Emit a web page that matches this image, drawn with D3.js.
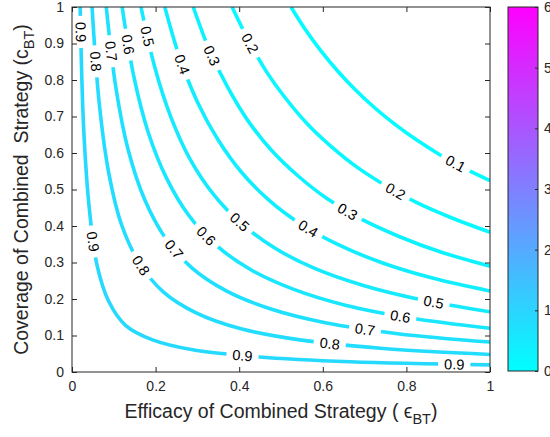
<!DOCTYPE html>
<html>
<head>
<meta charset="utf-8">
<script src="https://cdn.jsdelivr.net/npm/d3@7"></script>
<style>
  body { margin: 0; background: #fff; }
  text { font-family: "Liberation Sans", Arial, Helvetica, sans-serif; fill: #262626; }
</style>
</head>
<body>
<div id="chart"></div>
<script>
// contour levels
const levels = [0.1, 0.2, 0.3, 0.4, 0.5, 0.6, 0.7, 0.8, 0.9];

// traced contour lines, [efficacy, coverage] points
const line01 = [[0.524,1],[0.559,0.937],[0.596,0.879],[0.636,0.824],[0.679,0.772],[0.724,0.724],[0.772,0.679],[0.824,0.636],[0.879,0.596],[0.937,0.559],[1,0.524]];
const line02 = [[0.383,1],[0.422,0.909],[0.464,0.825],[0.511,0.750],[0.562,0.681],[0.619,0.619],[0.681,0.562],[0.750,0.511],[0.825,0.464],[0.909,0.422],[1,0.383]];
const line03 = [[0.29,1],[0.328,0.884],[0.372,0.781],[0.420,0.690],[0.476,0.609],[0.539,0.539],[0.609,0.476],[0.690,0.420],[0.781,0.372],[0.884,0.328],[1,0.29]];
const line04 = [[0.222,1],[0.258,0.860],[0.300,0.740],[0.349,0.637],[0.405,0.548],[0.471,0.471],[0.548,0.405],[0.637,0.349],[0.740,0.300],[0.860,0.258],[1,0.222]];
const line05 = [[0.165,1],[0.198,0.835],[0.237,0.697],[0.283,0.582],[0.339,0.486],[0.406,0.406],[0.486,0.339],[0.582,0.283],[0.697,0.237],[0.835,0.198],[1,0.165]];
const line06 = [[0.12,1],[0.148,0.809],[0.183,0.654],[0.227,0.529],[0.280,0.428],[0.346,0.346],[0.428,0.280],[0.529,0.227],[0.654,0.183],[0.809,0.148],[1,0.12]];
const line07 = [[0.082,1],[0.105,0.779],[0.135,0.606],[0.174,0.472],[0.223,0.368],[0.286,0.286],[0.368,0.223],[0.472,0.174],[0.606,0.135],[0.779,0.105],[1,0.082]];
const line08 = [[0.048,1],[0.065,0.738],[0.088,0.545],[0.119,0.402],[0.162,0.297],[0.219,0.219],[0.297,0.162],[0.402,0.119],[0.545,0.088],[0.738,0.065],[1,0.048]];
const line09 = [[0.0195,1],[0.028,0.665],[0.042,0.441],[0.060,0.292],[0.088,0.193],[0.128,0.128],[0.193,0.088],[0.292,0.060],[0.441,0.042],[0.665,0.028],[1,0.0195]];

const contourLines = [line01, line02, line03, line04, line05, line06, line07, line08, line09];

// inline label spots: [level, efficacy, coverage]
const labelSpots = [
  [0.9, 0.017, 0.932], [0.8, 0.051, 0.85], [0.7, 0.091, 0.878], [0.6, 0.131, 0.896],
  [0.5, 0.175, 0.919], [0.4, 0.258, 0.841], [0.3, 0.33, 0.864], [0.2, 0.418, 0.896],
  [0.1, 0.916, 0.567], [0.2, 0.769, 0.485], [0.3, 0.657, 0.435], [0.4, 0.561, 0.384],
  [0.5, 0.864, 0.186], [0.6, 0.785, 0.15], [0.7, 0.701, 0.113], [0.8, 0.616, 0.074],
  [0.9, 0.915, 0.019], [0.9, 0.047, 0.357], [0.8, 0.163, 0.291], [0.7, 0.242, 0.334],
  [0.6, 0.318, 0.369], [0.5, 0.4, 0.409], [0.9, 0.408, 0.042]
];

const xTicks = [0, 0.2, 0.4, 0.6, 0.8, 1];
const yTicks = [0, 0.1, 0.2, 0.3, 0.4, 0.5, 0.6, 0.7, 0.8, 0.9, 1];
const cbTicks = [0, 1, 2, 3, 4, 5, 6];

// layout
const W = 550, H = 437;
const plot = { left: 72, top: 7, right: 490, bottom: 372 };
const cb = { left: 508, right: 538, top: 7, bottom: 371 };
const axisColor = "#262626";

const svg = d3.select("#chart").append("svg")
  .attr("width", W).attr("height", H);

const x = d3.scaleLinear().domain([0, 1]).range([plot.left, plot.right]);
const y = d3.scaleLinear().domain([0, 1]).range([plot.bottom, plot.top]);
const cool = d3.scaleLinear().domain([0, 6]).range(["#00ffff", "#ff00ff"]);

const defs = svg.append("defs");
defs.append("clipPath").attr("id", "plotClip")
  .append("rect")
  .attr("x", plot.left).attr("y", plot.top)
  .attr("width", plot.right - plot.left).attr("height", plot.bottom - plot.top);

const mask = defs.append("mask").attr("id", "labelGaps")
  .attr("maskUnits", "userSpaceOnUse")
  .attr("x", 0).attr("y", 0).attr("width", W).attr("height", H);
mask.append("rect").attr("width", W).attr("height", H).attr("fill", "#fff");

// contour lines
const line = d3.line()
  .x(d => x(d[0]))
  .y(d => y(d[1]))
  .curve(d3.curveCatmullRom.alpha(0.5));

const lineGroup = svg.append("g")
  .attr("clip-path", "url(#plotClip)")
  .append("g")
  .attr("mask", "url(#labelGaps)");

const paths = lineGroup.selectAll("path")
  .data(contourLines)
  .join("path")
  .attr("d", line)
  .attr("fill", "none")
  .attr("stroke", (d, i) => cool(levels[i]))
  .attr("stroke-width", 3.6);

// inline labels, rotated along the line, with a gap cut in the line
const fmt = d3.format(".1f");
const labelGroup = svg.append("g");
labelSpots.forEach(([lv, ex, cy]) => {
  const node = paths.nodes()[levels.indexOf(lv)];
  const total = node.getTotalLength();
  const tx = x(ex), ty = y(cy);
  let best = 0, bestD = Infinity;
  for (let s = 0; s <= total; s += 0.5) {
    const p = node.getPointAtLength(s);
    const dd = (p.x - tx) ** 2 + (p.y - ty) ** 2;
    if (dd < bestD) { bestD = dd; best = s; }
  }
  const p = node.getPointAtLength(best);
  const a = node.getPointAtLength(Math.max(0, best - 4));
  const b = node.getPointAtLength(Math.min(total, best + 4));
  let ang = Math.atan2(b.y - a.y, b.x - a.x) * 180 / Math.PI;
  if (ang > 90) ang -= 180;
  if (ang < -90) ang += 180;

  const t = labelGroup.append("text")
    .attr("transform", `translate(${p.x},${p.y}) rotate(${ang})`)
    .attr("text-anchor", "middle")
    .attr("dy", "0.35em")
    .attr("font-size", 14.5)
    .style("fill", "#000")
    .text(fmt(lv));
  const w = t.node().getComputedTextLength();
  mask.append("rect")
    .attr("x", -w / 2 - 6).attr("y", -9)
    .attr("width", w + 12).attr("height", 18)
    .attr("transform", `translate(${p.x},${p.y}) rotate(${ang})`)
    .attr("fill", "#000");
});

// axes
const tickFont = 14;
const xAxis = svg.append("g")
  .attr("transform", `translate(0,${plot.bottom})`)
  .call(d3.axisBottom(x).tickValues(xTicks).tickSize(-5).tickPadding(9).tickFormat(d3.format("~g")));
const yAxis = svg.append("g")
  .attr("transform", `translate(${plot.left},0)`)
  .call(d3.axisLeft(y).tickValues(yTicks).tickSize(-5).tickPadding(8).tickFormat(d3.format("~g")));
const xTop = svg.append("g")
  .attr("transform", `translate(0,${plot.top})`)
  .call(d3.axisTop(x).tickValues(xTicks).tickSize(-5).tickFormat(""));
const yRight = svg.append("g")
  .attr("transform", `translate(${plot.right},0)`)
  .call(d3.axisRight(y).tickValues(yTicks).tickSize(-5).tickFormat(""));

[xAxis, yAxis, xTop, yRight].forEach(g => {
  g.select(".domain").remove();
  g.selectAll("line").attr("stroke", axisColor);
  g.selectAll("text").attr("font-size", tickFont).attr("font-family", null).style("fill", axisColor);
});

svg.append("rect")
  .attr("x", plot.left).attr("y", plot.top)
  .attr("width", plot.right - plot.left).attr("height", plot.bottom - plot.top)
  .attr("fill", "none").attr("stroke", axisColor).attr("stroke-width", 1);

// axis titles
const xTitle = svg.append("text")
  .attr("x", (plot.left + plot.right) / 2).attr("y", 418)
  .attr("text-anchor", "middle").attr("font-size", 19.5)
  .style("white-space", "pre");
xTitle.append("tspan").text("Efficacy of Combined Strategy ( ");
xTitle.append("tspan").text("\u03F5");
xTitle.append("tspan").attr("dy", 6).attr("font-size", 14.5).text("BT");
xTitle.append("tspan").attr("dy", -6).text(")");

const yTitle = svg.append("text")
  .attr("transform", `translate(28,${(plot.top + plot.bottom) / 2}) rotate(-90)`)
  .attr("text-anchor", "middle").attr("font-size", 19.5)
  .style("white-space", "pre");
yTitle.append("tspan").text("Coverage of Combined  Strategy (c");
yTitle.append("tspan").attr("dy", 6).attr("font-size", 14.5).text("BT");
yTitle.append("tspan").attr("dy", -6).text(")");

// colorbar
const grad = defs.append("linearGradient").attr("id", "coolGrad")
  .attr("x1", 0).attr("y1", 1).attr("x2", 0).attr("y2", 0);
grad.append("stop").attr("offset", 0).attr("stop-color", cool(0));
grad.append("stop").attr("offset", 1).attr("stop-color", cool(6));

svg.append("rect")
  .attr("x", cb.left).attr("y", cb.top)
  .attr("width", cb.right - cb.left).attr("height", cb.bottom - cb.top)
  .attr("fill", "url(#coolGrad)")
  .attr("stroke", axisColor).attr("stroke-width", 1);

const cbScale = d3.scaleLinear().domain([0, 6]).range([cb.bottom, cb.top]);
const cbAxis = svg.append("g")
  .attr("transform", `translate(${cb.right},0)`)
  .call(d3.axisRight(cbScale).tickValues(cbTicks).tickSize(-3).tickPadding(6));
cbAxis.select(".domain").remove();
cbAxis.selectAll("line").attr("stroke", axisColor);
cbAxis.selectAll("text").attr("font-size", tickFont).attr("font-family", null).style("fill", axisColor);
</script>
</body>
</html>
